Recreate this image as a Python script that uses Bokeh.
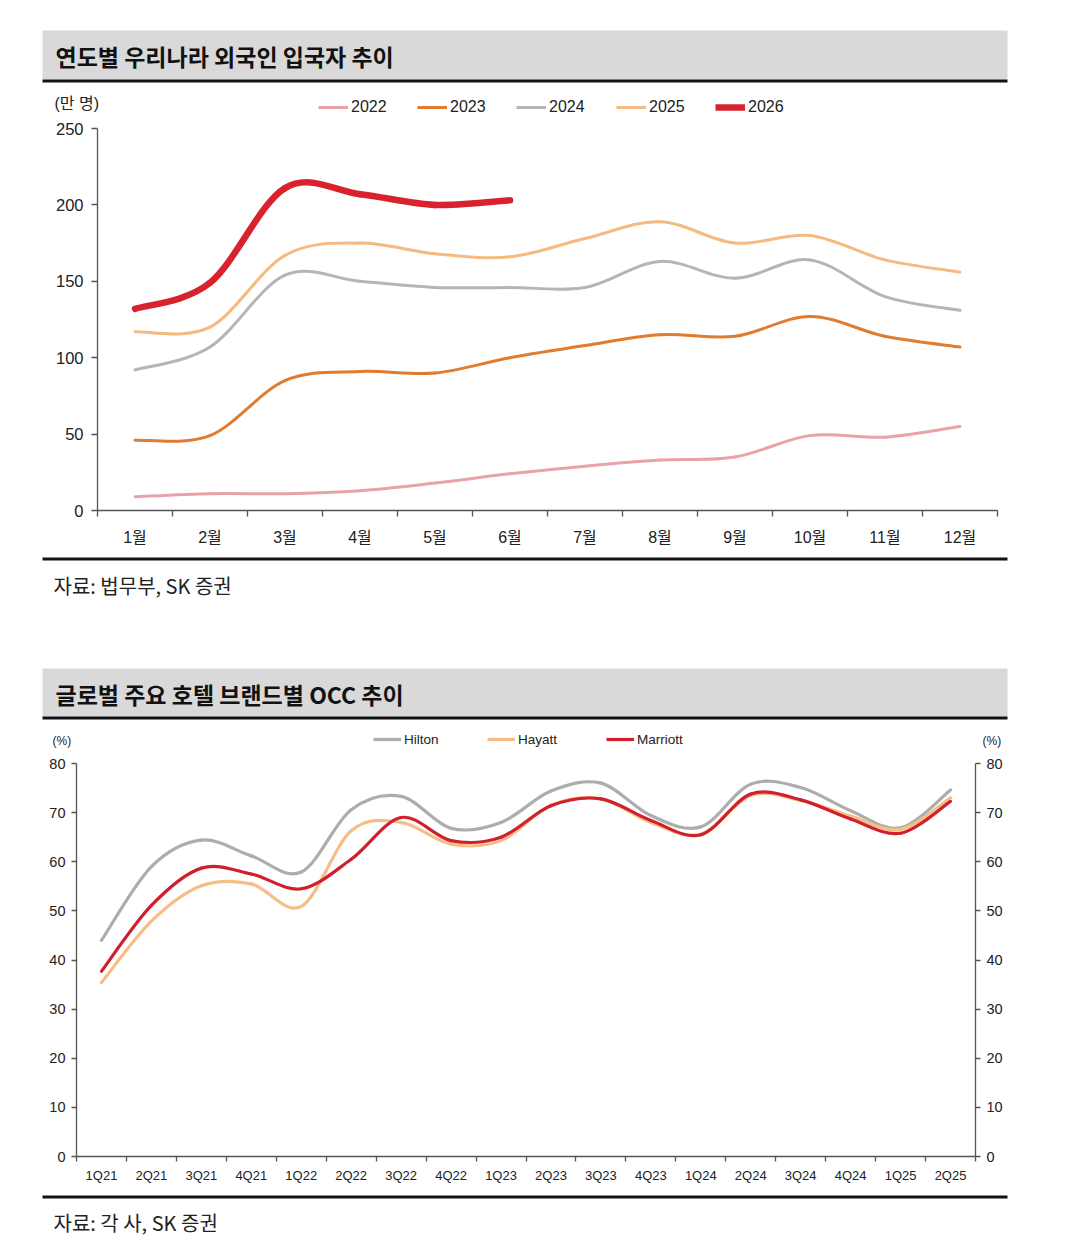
from bokeh.plotting import figure
from bokeh.models import Range1d, FixedTicker, Legend, LegendItem, LinearAxis
from bokeh.embed import file_html
from bokeh.resources import INLINE
from bokeh.core.properties import value

# ---------------- data: chart 1 ----------------
months = ["1월", "2월", "3월", "4월", "5월", "6월", "7월", "8월", "9월", "10월", "11월", "12월"]
years = ["2022", "2023", "2024", "2025", "2026"]
v2022 = [9, 11, 11, 13, 18, 24, 29, 33, 35, 49, 48, 55]
v2023 = [46, 49, 85, 91, 90, 100, 108, 115, 114, 127, 114, 107]
v2024 = [92, 107, 154, 150, 146, 146, 146, 163, 152, 164, 140, 131]
v2025 = [117, 120, 167, 175, 168, 166, 178, 189, 175, 180, 164, 156]
v2026 = [132, 149, 211, 207, 200, 203]
y1_ticks = [0, 50, 100, 150, 200, 250]
unit1 = "(만 명)"

# ---------------- data: chart 2 ----------------
quarters = ["1Q21", "2Q21", "3Q21", "4Q21", "1Q22", "2Q22", "3Q22", "4Q22", "1Q23",
            "2Q23", "3Q23", "4Q23", "1Q24", "2Q24", "3Q24", "4Q24", "1Q25", "2Q25"]
brands = ["Hilton", "Hayatt", "Marriott"]
hilton = [44.0, 59.0, 64.4, 61.2, 57.9, 70.6, 73.3, 66.8, 68.0, 74.4, 76.0, 69.4, 67.1, 75.8, 75.1, 70.4, 66.9, 74.6]
hyatt = [35.4, 47.9, 55.1, 55.5, 50.9, 66.3, 68.0, 63.6, 64.3, 71.5, 72.8, 68.0, 65.6, 73.5, 72.5, 69.3, 66.6, 73.0]
marriott = [37.7, 51.1, 58.7, 57.5, 54.5, 60.5, 69.0, 64.3, 65.0, 71.4, 72.8, 68.4, 65.5, 73.8, 72.6, 68.7, 65.8, 72.3]
y2_ticks = [0, 10, 20, 30, 40, 50, 60, 70, 80]
unit2 = "(%)"

TITLE1 = "연도별 우리나라 외국인 입국자 추이"
SOURCE1 = "자료: 법무부, SK 증권"
TITLE2 = "글로벌 주요 호텔 브랜드별 OCC 추이"
SOURCE2 = "자료: 각 사, SK 증권"

KR = "Noto Sans CJK KR"
NUM = "Liberation Sans, Noto Sans CJK KR"
W = 1040
NAN = float("nan")

colors1 = ["#E8A3AA", "#E07B2F", "#B5B5B5", "#F5BA80", "#D8232F"]
widths1 = [3, 3, 3, 3, 6.5]
colors2 = ["#ADADAD", "#F6BE86", "#D0202E"]


def bezier_source(xs, ys):
    """Cardinal (Catmull-Rom) control points for a smoothed line through the data."""
    n = len(xs)
    d = dict(x0=[], y0=[], x1=[], y1=[], cx0=[], cy0=[], cx1=[], cy1=[])
    for i in range(n - 1):
        xa, ya = (xs[i - 1], ys[i - 1]) if i > 0 else (xs[i], ys[i])
        xd, yd = (xs[i + 2], ys[i + 2]) if i + 2 < n else (xs[i + 1], ys[i + 1])
        d["x0"].append(xs[i]); d["y0"].append(ys[i])
        d["x1"].append(xs[i + 1]); d["y1"].append(ys[i + 1])
        d["cx0"].append(xs[i] + (xs[i + 1] - xa) / 6.0)
        d["cy0"].append(ys[i] + (ys[i + 1] - ya) / 6.0)
        d["cx1"].append(xs[i + 1] - (xd - xs[i]) / 6.0)
        d["cy1"].append(ys[i + 1] - (yd - ys[i]) / 6.0)
    return d


def plain(H):
    p = figure(width=W, height=H, x_range=Range1d(0, W), y_range=Range1d(H, 0),
               output_backend="svg", toolbar_location=None, min_border=0,
               x_axis_location=None, y_axis_location=None)
    p.grid.visible = False
    p.outline_line_color = None
    p.background_fill_color = "white"
    p.border_fill_color = "white"
    return p


def header(title, H, top, bottom):
    p = plain(H)
    p.quad(left=[42], right=[1007], top=[top], bottom=[bottom], fill_color="#D9D9D9", line_color=None)
    p.quad(left=[42], right=[1007], top=[bottom], bottom=[bottom + 3], fill_color="#111111", line_color=None)
    p.text(x=[55], y=[(top + bottom) / 2 + 1], text=[title], text_font=value(KR), text_font_style="bold",
           text_font_size="23px", text_baseline="middle", text_align="left", text_color="#111111")
    return p


def footer(source, H, line_y, text_y):
    p = plain(H)
    p.quad(left=[42], right=[1007], top=[line_y], bottom=[line_y + 3], fill_color="#111111", line_color=None)
    p.text(x=[53], y=[text_y], text=[source], text_font=value(KR), text_font_size="20px",
           text_baseline="middle", text_align="left", text_color="#222222")
    return p


def strip(H, names, colors, widths, leg_x, leg_y, glyph_w, fsize, units):
    """Legend row and unit labels above a chart (legend swatches mirror the chart's lines)."""
    p = plain(H)
    for name, c, lw, lx in zip(names, colors, widths, leg_x):
        r = p.line(x=[NAN, NAN], y=[NAN, NAN], line_color=c, line_width=lw)
        lg = Legend(items=[LegendItem(label=name, renderers=[r])], location=(lx, leg_y),
                    orientation="horizontal", glyph_width=glyph_w, glyph_height=16, label_height=16,
                    label_standoff=3, padding=0, margin=0, border_line_color=None,
                    background_fill_alpha=0, label_text_font=NUM, label_text_font_size=fsize,
                    label_text_color="#222222")
        p.add_layout(lg)
    for (ux, uy, txt, usize) in units:
        p.text(x=[ux], y=[uy], text=[txt], text_font=value(NUM), text_font_size=usize,
               text_baseline="middle", text_align="left", text_color="#222222")
    return p


def style_axis(ax, size, tick_out, standoff):
    ax.axis_line_color = "#555555"
    ax.axis_line_width = 1.3
    ax.major_tick_line_color = "#555555"
    ax.major_tick_line_width = 1.3
    ax.major_tick_out = tick_out
    ax.major_tick_in = 0
    ax.minor_tick_line_color = None
    ax.major_label_text_font = NUM
    ax.major_label_text_font_size = size
    ax.major_label_text_color = "#222222"
    ax.major_label_standoff = standoff


def cat_axis(ax, labels, size, standoff, tick_len):
    style_axis(ax, size, 0, standoff)
    pos = list(range(1, len(labels) + 1))
    ax.ticker = FixedTicker(ticks=pos, minor_ticks=[i + 0.5 for i in range(0, len(labels) + 1)])
    ax.major_tick_line_color = None
    ax.minor_tick_line_color = "#555555"
    ax.minor_tick_line_width = 1.3
    ax.minor_tick_out = tick_len
    ax.minor_tick_in = 0
    ax.major_label_overrides = {i: s for i, s in zip(pos, labels)}


# ---------------- chart 1 ----------------
p1 = figure(width=W, height=437, x_range=Range1d(0.5, 12.5), y_range=Range1d(0, 250),
            output_backend="svg", toolbar_location=None,
            min_border_left=97, min_border_right=W - 997, min_border_top=9, min_border_bottom=46)
p1.grid.visible = False
p1.outline_line_color = None
x1 = list(range(1, len(months) + 1))
for vals, c, lw in zip([v2022, v2023, v2024, v2025, v2026], colors1, widths1):
    p1.bezier(source=bezier_source(x1[:len(vals)], vals), x0="x0", y0="y0", x1="x1", y1="y1",
              cx0="cx0", cy0="cy0", cx1="cx1", cy1="cy1",
              line_color=c, line_width=lw, line_cap="round")
style_axis(p1.yaxis[0], "16.5px", 6, 8)
p1.yaxis[0].ticker = FixedTicker(ticks=y1_ticks)
cat_axis(p1.xaxis[0], months, "16px", 12, 6)

s1 = strip(35, years, colors1, widths1, [318, 417, 516, 616, 715], 3, 30, "16px",
           [(54, 19, unit1, "16px")])

# ---------------- chart 2 ----------------
p2 = figure(width=W, height=439, x_range=Range1d(0.5, 18.5), y_range=Range1d(0, 80),
            output_backend="svg", toolbar_location=None,
            min_border_left=76, min_border_right=W - 975, min_border_top=8, min_border_bottom=38)
p2.grid.visible = False
p2.outline_line_color = None
x2 = list(range(1, len(quarters) + 1))
for vals, c in zip([hilton, hyatt, marriott], colors2):
    p2.bezier(source=bezier_source(x2, vals), x0="x0", y0="y0", x1="x1", y1="y1",
              cx0="cx0", cy0="cy0", cx1="cx1", cy1="cy1",
              line_color=c, line_width=3.2, line_cap="round")
style_axis(p2.yaxis[0], "14.5px", 5, 6)
p2.yaxis[0].ticker = FixedTicker(ticks=y2_ticks)
ra = LinearAxis()
p2.add_layout(ra, "right")
style_axis(ra, "14.5px", 5, 6)
ra.ticker = FixedTicker(ticks=y2_ticks)
cat_axis(p2.xaxis[0], quarters, "13px", 6, 5)

s2 = strip(35, brands, colors2, [3.2, 3.2, 3.2], [373, 487, 606], 8, 28, "13.5px",
           [(52, 20, unit2, "12px"), (982, 20, unit2, "12px")])

h1 = header(TITLE1, 84, 30, 79)
f1 = footer(SOURCE1, 104, 1, 29)
h2 = header(TITLE2, 60, 8, 56)
f2 = footer(SOURCE2, 52, 1, 28)

roots = [h1, s1, p1, f1, h2, s2, p2, f2]
open("out.html", "w").write(file_html(roots, INLINE))
